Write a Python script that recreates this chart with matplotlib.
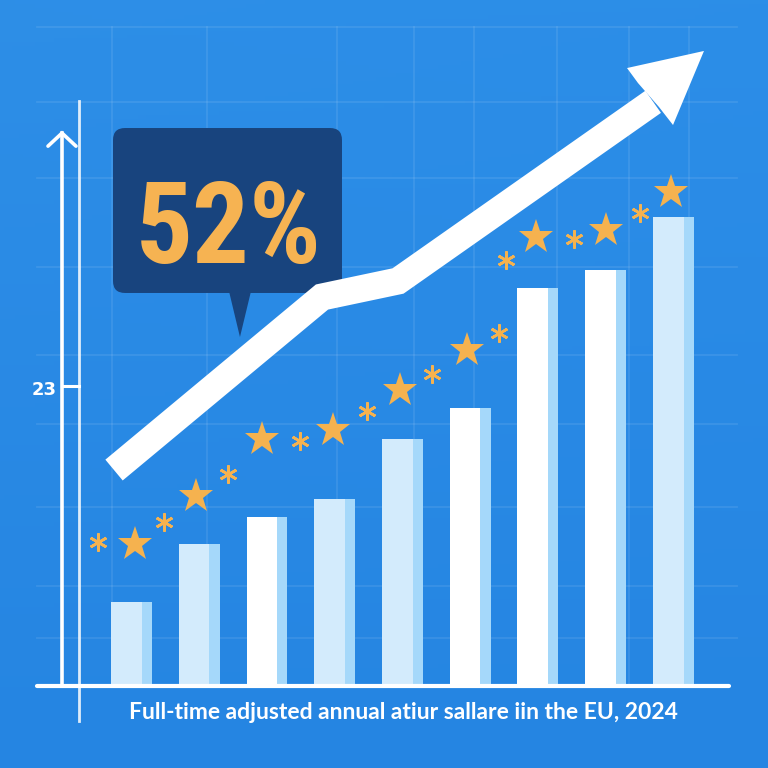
import numpy as np
import matplotlib
matplotlib.use("Agg")
import matplotlib.pyplot as plt
from matplotlib.patches import FancyBboxPatch, Polygon
from matplotlib import font_manager as fm

# ---------------- data ----------------
categories = list(range(9))
bar_values = [6.44, 10.89, 12.96, 14.34, 18.94, 21.32, 30.52, 31.90, 35.97]
bar_is_white = [False, False, True, False, False, True, True, True, False]

star_x = [0.05, 0.95, 1.93, 2.97, 3.96, 4.95, 5.97, 7.00, 7.96]
star_y = [10.89, 14.57, 18.94, 19.63, 22.70, 25.77, 34.43, 34.97, 37.88]
aster_x = [-0.50, 0.48, 1.42, 2.49, 3.48, 4.44, 5.42, 5.53, 6.53, 7.51]
aster_y = [11.04, 12.58, 16.26, 18.79, 21.09, 23.93, 27.07, 32.67, 34.28, 36.27]

trend_x = [-0.258, 2.812, 3.934, 7.70]
trend_y = [16.56, 29.83, 31.06, 44.80]
head_x = [8.450, 7.314, 7.476, 7.786, 7.993]
head_y = [48.70, 47.39, 46.24, 44.40, 43.02]

ytick_value = 23
ytick_label = "23"
callout_text = "52%"
title_text = "Full-time adjusted annual atiur sallare iin the EU, 2024"

# ---------------- styles ----------------
BG_TOP = np.array([0x2c, 0x8e, 0xe8]) / 255
BG_BOT = np.array([0x25, 0x85, 0xe2]) / 255
LIGHT_MAIN = "#d3ebfc"
WHITE_MAIN = "#ffffff"
STRIP = "#a5d8fa"
STAR = "#f5b24f"
NAVY = "#18447e"
CALLOUT = "#f6b352"

fig = plt.figure(figsize=(7.68, 7.68), dpi=100)
ax = fig.add_axes([0, 0, 1, 1])
XL = (-1.941, 9.395)
YL = (-6.288, 52.607)
ax.set_xlim(*XL)
ax.set_ylim(*YL)
ax.axis("off")

# background gradient
h, w = 200, 200
t = np.linspace(0, 1, h)[:, None]
s = np.linspace(0, 1, w)[None, :]
grad = (1 - t)[..., None] * BG_TOP + t[..., None] * BG_BOT
grad = grad + 0.02 * ((1 - s) * (1 - t))[..., None] * np.array([0.3, 0.1, -0.2])
grad = np.clip(grad, 0, 1)
ax.imshow(grad, extent=[XL[0], XL[1], YL[0], YL[1]], origin="upper",
          aspect="auto", zorder=0)

# faint grid (axes-fraction positions)
grid_rows = [27, 102, 178, 267, 355, 424, 507, 586, 638]
grid_cols = [112, 207, 337, 414, 474, 557, 629, 689]
for gy in grid_rows:
    ax.plot([37 / 768, 737 / 768], [1 - gy / 768] * 2, transform=ax.transAxes,
            color="white", alpha=0.09, lw=1.3, zorder=1)
for gx in grid_cols:
    ax.plot([gx / 768] * 2, [1 - 27 / 768, 1 - 686 / 768], transform=ax.transAxes,
            color="white", alpha=0.09, lw=1.3, zorder=1)

# bars: main part + right strip
bw = 0.605
strip_frac = 0.25
x = np.array(categories, dtype=float)
main_colors = [WHITE_MAIN if wflag else LIGHT_MAIN for wflag in bar_is_white]
ax.bar(x - bw / 2, bar_values, width=bw * (1 - strip_frac), align="edge",
       color=main_colors, zorder=3, linewidth=0)
ax.bar(x - bw / 2 + bw * (1 - strip_frac), bar_values, width=bw * strip_frac,
       align="edge", color=STRIP, zorder=3, linewidth=0)

# axes lines
ax.plot([-1.395, 8.82], [0, 0], color="white", lw=3.0, solid_capstyle="round", zorder=4)
ax.plot([-1.026, -1.026], [0, 42.4], color="white", lw=2.6, zorder=4)
ax.plot([-1.026 - 0.2066, -1.026, -1.026 + 0.2066], [42.4 - 1.0, 42.4, 42.4 - 1.0],
        color="white", lw=2.6, solid_capstyle="round", solid_joinstyle="miter", zorder=4)
ax.plot([-0.775, -0.775], [-2.68, 44.86], color="white", lw=2.0, alpha=0.85, zorder=4)
ax.plot([-1.026, -0.775], [ytick_value, ytick_value], color="white", lw=2.2, zorder=4)
ax.text(-1.10, ytick_value - 0.3, ytick_label, ha="right", va="center", color="white",
        fontsize=13, fontweight="bold", family=["DejaVu Sans"], zorder=5)

# stars
ax.plot(star_x, star_y, linestyle="none", marker="*", markersize=26,
        color=STAR, markeredgewidth=0, zorder=5)
ax.plot(aster_x, aster_y, linestyle="none", marker=(6, 2, 0), markersize=13,
        markeredgecolor=STAR, markeredgewidth=1.9, zorder=5)

# callout bubble
rx = 0.177
bubble = FancyBboxPatch((-0.273, 30.14), 3.107 + 0.273, 42.79 - 30.14,
                        boxstyle=f"round,pad=0,rounding_size={rx}",
                        mutation_aspect=67.75 / 13.04,
                        facecolor=NAVY, edgecolor="none", zorder=6)
ax.add_patch(bubble)
ax.add_patch(Polygon([(1.424, 30.6), (1.779, 30.6), (1.601, 26.76)], closed=True,
                     facecolor=NAVY, edgecolor="none", zorder=6))

# trend arrow
ax.plot(trend_x, trend_y, color="white", lw=19.5, solid_capstyle="butt",
        solid_joinstyle="miter", zorder=7)
ax.add_patch(Polygon(list(zip(head_x, head_y)), closed=True, facecolor="white",
                     edgecolor="none", zorder=7))

# big callout text (choose narrowest available font, fit width)
names = {f.name for f in fm.fontManager.ttflist}
big_font = "DejaVu Sans"
for cand in ["Liberation Sans Narrow", "Roboto Condensed", "Open Sans Condensed",
             "Noto Sans Condensed"]:
    if cand in names:
        big_font = cand
        break
ctext = ax.text(1.439, 32.44, callout_text, ha="center", va="baseline",
                color=CALLOUT, fontsize=60, fontweight="bold",
                family=[big_font], zorder=8)
fig.canvas.draw()
r = fig.canvas.get_renderer()
bb = ctext.get_window_extent(r)
target_w = 186
ctext.set_fontsize(60 * target_w / bb.width)

# bottom title
ax.text(4.02, -2.53, title_text, ha="center", va="baseline", color="white",
        fontsize=16.5, fontweight="bold", family=["Lato", "DejaVu Sans"], zorder=8)

fig.savefig("out.png", dpi=100)
